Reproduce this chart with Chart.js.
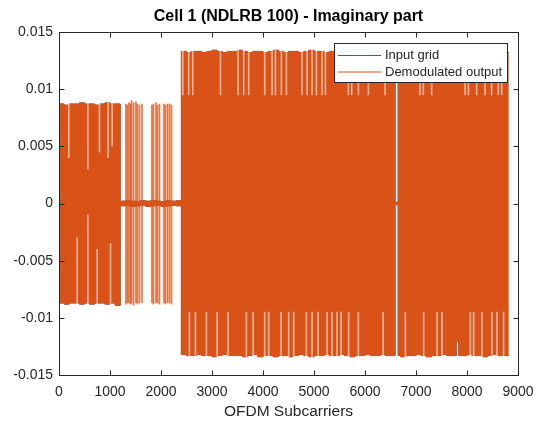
<!DOCTYPE html>
<html>
<head>
<meta charset="utf-8">
<title>Cell 1 (NDLRB 100) - Imaginary part</title>
<script src="https://cdn.jsdelivr.net/npm/chart.js@4.4.0/dist/chart.umd.min.js"></script>
<style>
  html, body { margin: 0; padding: 0; background: #fff; }
</style>
</head>
<body>
<canvas id="myChart" width="538" height="423"></canvas>
<script>
'use strict';

let chartTitle = 'Cell 1 (NDLRB 100) - Imaginary part';
let xTitle = 'OFDM Subcarriers';
let seriesNames = [ 'Input grid', 'Demodulated output' ];

let xTicks = [ 0, 1000, 2000, 3000, 4000, 5000, 6000, 7000, 8000, 9000 ];
let yTicks = [ -0.015, -0.01, -0.005, 0, 0.005, 0.01, 0.015 ];
let yTickLabels = [ '-0.015', '-0.01', '-0.005', '0', '0.005', '0.01', '0.015' ];

// envelope of the signal: each block starts at envX and holds until the next one
let envX = [
  0, 100, 200, 300, 400, 500, 600, 700, 800, 900, 1000, 1100,
  1200, 1300, 1400, 1500, 1600, 1700, 1800, 1900, 2000, 2100, 2200, 2300,
  2400, 2500, 2600, 2700, 2800, 2900, 3000, 3100, 3200, 3300,
  3400, 3500, 3600, 3700, 3800, 3900, 4000, 4100, 4200, 4300,
  4400, 4500, 4600, 4700, 4800, 4900, 5000, 5100, 5200, 5300,
  5400, 5500, 5600, 5700, 5800, 5900, 6000, 6100, 6200, 6300,
  6400, 6500,
  6590,
  6650, 6700, 6800, 6900, 7000, 7100, 7200, 7300, 7400, 7500, 7600, 7700,
  7790, 7840,
  7900, 8000, 8100, 8200, 8300, 8400, 8500, 8600, 8700,
  8820
];
let envHigh = [
  0.0087, 0.0086, 0.0087, 0.0087, 0.0088, 0.0087, 0.0087, 0.0086, 0.0087, 0.0088, 0.0087, 0.0087,
  0.0002, 0.00025, 0.0002, 0.00015, 0.00025, 0.0002, 0.00025, 0.0002, 0.00015, 0.00025, 0.0002, 0.00025,
  0.0133, 0.0132, 0.0133, 0.0133, 0.0132, 0.0133, 0.0134, 0.0133, 0.0132, 0.0133,
  0.0133, 0.0134, 0.0133, 0.0132, 0.0133, 0.0133, 0.0132, 0.0133, 0.0134, 0.0133,
  0.0132, 0.0133, 0.0133, 0.0132, 0.0133, 0.0134, 0.0133, 0.0133, 0.0132, 0.0133,
  0.0133, 0.0132, 0.0133, 0.0134, 0.0133, 0.0132, 0.0133, 0.0133, 0.0132, 0.0133,
  0.0133, 0.0132,
  0.0001,
  0.0133, 0.0132, 0.0133, 0.0133, 0.0134, 0.0133, 0.0132, 0.0133, 0.0133, 0.0132, 0.0133, 0.0133,
  0.0133, 0.0133,
  0.0132, 0.0133, 0.0133, 0.0134, 0.0133, 0.0132, 0.0133, 0.0133, 0.0132,
  0.0132
];
let envLow = [
  -0.0087, -0.0088, -0.0087, -0.0087, -0.0088, -0.0087, -0.0088, -0.0087, -0.0087, -0.0088, -0.0087, -0.0089,
  -0.0002, -0.00015, -0.00025, -0.0002, -0.00015, -0.00025, -0.0002, -0.00015, -0.00025, -0.0002, -0.00015, -0.0002,
  -0.0132, -0.0133, -0.0133, -0.0132, -0.0133, -0.0133, -0.0134, -0.0133, -0.0132, -0.0133,
  -0.0133, -0.0133, -0.0134, -0.0133, -0.0132, -0.0134, -0.0133, -0.0133, -0.0134, -0.0133,
  -0.0133, -0.0134, -0.0133, -0.0132, -0.0133, -0.0134, -0.0133, -0.0133, -0.0132, -0.0133,
  -0.0133, -0.0132, -0.0133, -0.0134, -0.0133, -0.0133, -0.0132, -0.0133, -0.0133, -0.0132,
  -0.0133, -0.0133,
  -0.0001,
  -0.0133, -0.0134, -0.0133, -0.0133, -0.0132, -0.0133, -0.0134, -0.0133, -0.0133, -0.0132, -0.0133, -0.0133,
  -0.0121, -0.0133,
  -0.0133, -0.0132, -0.0133, -0.0133, -0.0134, -0.0133, -0.0132, -0.0133, -0.0133,
  -0.0133
];

// isolated full-swing subcarriers in the quiet band 1200-2400
let spikeX = [
  1323, 1352, 1382, 1411, 1431, 1470, 1519, 1548, 1588, 1637,
  1833, 1862, 1911, 1940, 1980,
  2068, 2097, 2137, 2176, 2215
];
let spikeHigh = [
  0.0087, 0.0086, 0.0088, 0.0087, 0.0090, 0.0088, 0.0089, 0.0087, 0.0086, 0.0087,
  0.0086, 0.0087, 0.0088, 0.0086, 0.0087,
  0.0087, 0.0086, 0.0087, 0.0087, 0.0086
];
let spikeLow = [
  -0.0088, -0.0087, -0.0087, -0.0088, -0.0087, -0.0089, -0.0087, -0.0088, -0.0087, -0.0087,
  -0.0087, -0.0088, -0.0087, -0.0087, -0.0088,
  -0.0087, -0.0088, -0.0087, -0.0087, -0.0088
];

// subcarriers that stay below the full swing (the pale streaks inside the band)
let dipX = [
  183, 555, 784, 954, 1033,
  347, 555, 739, 1000,
  2417, 2534, 2613, 3156, 3503, 3612, 3710, 4024, 4169, 4234, 4351, 4449,
  4757, 4855, 4953, 5037, 5149, 5214, 5664, 5730, 5861, 6057, 6384,
  7069, 7134, 7297, 7952, 8017, 8180, 8344, 8473, 8604, 8670,
  2548, 2666, 2881, 3091, 3307, 3665, 3797, 4024, 4102, 4345, 4494, 4592,
  4841, 4953, 5071, 5247, 5345, 5443, 5521, 5670, 5860, 6345,
  6782, 7141, 7403, 7501, 8056, 8121, 8285, 8481, 8579, 8708
];
let dipFrom = [
  0.0040, 0.0030, 0.0045, 0.0040, 0.0050,
  -0.0089, -0.0089, -0.0089, -0.0089,
  0.0095, 0.0095, 0.0095, 0.0095, 0.0095, 0.0095, 0.0095, 0.0095, 0.0095, 0.0095, 0.0095, 0.0095,
  0.0095, 0.0095, 0.0095, 0.0095, 0.0095, 0.0095, 0.0095, 0.0095, 0.0095, 0.0095, 0.0095,
  0.0095, 0.0095, 0.0095, 0.0095, 0.0095, 0.0095, 0.0095, 0.0095, 0.0095, 0.0095,
  -0.0135, -0.0135, -0.0135, -0.0135, -0.0135, -0.0135, -0.0135, -0.0135, -0.0135, -0.0135, -0.0135, -0.0135,
  -0.0135, -0.0135, -0.0135, -0.0135, -0.0135, -0.0135, -0.0135, -0.0135, -0.0135, -0.0135,
  -0.0135, -0.0135, -0.0135, -0.0135, -0.0135, -0.0135, -0.0135, -0.0135, -0.0135, -0.0135
];
let dipTo = [
  0.0089, 0.0089, 0.0089, 0.0089, 0.0089,
  -0.0030, -0.0010, -0.0040, -0.0035,
  0.0135, 0.0135, 0.0135, 0.0135, 0.0135, 0.0135, 0.0135, 0.0135, 0.0135, 0.0135, 0.0135, 0.0135,
  0.0135, 0.0135, 0.0135, 0.0135, 0.0135, 0.0135, 0.0135, 0.0135, 0.0135, 0.0135, 0.0135,
  0.0135, 0.0135, 0.0135, 0.0135, 0.0135, 0.0135, 0.0135, 0.0135, 0.0135, 0.0135,
  -0.0095, -0.0095, -0.0095, -0.0095, -0.0095, -0.0095, -0.0095, -0.0095, -0.0095, -0.0095, -0.0095, -0.0095,
  -0.0095, -0.0095, -0.0095, -0.0095, -0.0095, -0.0095, -0.0095, -0.0095, -0.0095, -0.0095,
  -0.0095, -0.0095, -0.0095, -0.0095, -0.0095, -0.0095, -0.0095, -0.0095, -0.0095, -0.0095
];

let blue = '#0072BD';
let orange = '#D95319';
let axisColor = '#262626';
let fontFamily = '"Liberation Sans", Arial, Helvetica, sans-serif';

Chart.defaults.font.family = fontFamily;

function points( ys ) {
  return envX.map( ( x, i ) => ( { x: x, y: ys[i] } ) );
}

// MATLAB look: closed box, inward ticks, title and boxed legend
let matlabAxes = {
  id: 'matlabAxes',
  afterDraw( chart ) {
    let ctx = chart.ctx;
    let a = chart.chartArea;
    let xs = chart.scales.x;
    let ys = chart.scales.y;
    let l = Math.round( a.left ) + 0.5;
    let r = Math.round( a.right ) + 0.5;
    let t = Math.round( a.top ) + 0.5;
    let b = Math.round( a.bottom ) + 0.5;
    let tl = 5;

    ctx.save();
    ctx.strokeStyle = axisColor;
    ctx.lineWidth = 1;
    ctx.beginPath();
    ctx.rect( l, t, r - l, b - t );
    xTicks.forEach( v => {
      let px = Math.round( xs.getPixelForValue( v ) ) + 0.5;
      ctx.moveTo( px, b ); ctx.lineTo( px, b - tl );
      ctx.moveTo( px, t ); ctx.lineTo( px, t + tl );
    } );
    yTicks.forEach( v => {
      let py = Math.round( ys.getPixelForValue( v ) ) + 0.5;
      ctx.moveTo( l, py ); ctx.lineTo( l + tl, py );
      ctx.moveTo( r, py ); ctx.lineTo( r - tl, py );
    } );
    ctx.stroke();

    // title
    ctx.fillStyle = '#000';
    ctx.font = 'bold 16px ' + fontFamily;
    ctx.textAlign = 'center';
    ctx.textBaseline = 'middle';
    ctx.fillText( chartTitle, ( a.left + a.right ) / 2, 17 );

    // legend
    let bx = 334.5, by = 43.5, bw = 173, bh = 39;
    ctx.fillStyle = '#fff';
    ctx.fillRect( bx, by, bw, bh );
    ctx.strokeStyle = axisColor;
    ctx.strokeRect( bx, by, bw, bh );
    let colors = [ blue, orange ];
    ctx.font = '13px ' + fontFamily;
    ctx.textAlign = 'left';
    for( let i = 0; i < seriesNames.length; i++ ) {
      let cy = 55.5 + i * 16.5;
      ctx.strokeStyle = colors[i];
      ctx.beginPath();
      ctx.moveTo( 338, cy );
      ctx.lineTo( 381, cy );
      ctx.stroke();
      ctx.fillStyle = axisColor;
      ctx.fillText( seriesNames[i], 385, cy );
    }
    ctx.restore();
  }
};

let ctx = document.getElementById( 'myChart' ).getContext( '2d' );

let myChart = new Chart( ctx, {
  type: 'line',
  data: {
    datasets: [
      {
        label: seriesNames[0],
        data: points( envHigh ),
        borderColor: blue,
        borderWidth: 1,
        pointRadius: 0,
        stepped: true,
        fill: false,
        order: 3
      },
      {
        label: seriesNames[0] + ' low',
        data: points( envLow ),
        borderColor: blue,
        borderWidth: 1,
        pointRadius: 0,
        stepped: true,
        fill: false,
        order: 3
      },
      {
        label: seriesNames[1] + ' low',
        data: points( envLow ),
        borderColor: orange,
        borderWidth: 1,
        pointRadius: 0,
        stepped: true,
        fill: false,
        order: 2
      },
      {
        label: seriesNames[1],
        data: points( envHigh ),
        borderColor: orange,
        backgroundColor: orange,
        borderWidth: 1,
        pointRadius: 0,
        stepped: true,
        fill: '-1',
        order: 2
      },
      {
        type: 'bar',
        label: 'dips',
        data: dipX.map( ( x, i ) => ( { x: x, y: [ dipFrom[i], dipTo[i] ] } ) ),
        backgroundColor: 'rgba(255, 255, 255, 0.55)',
        borderWidth: 0,
        barThickness: 1,
        order: 1
      },
      {
        type: 'bar',
        label: seriesNames[1] + ' spikes',
        data: spikeX.map( ( x, i ) => ( { x: x, y: [ spikeLow[i], spikeHigh[i] ] } ) ),
        backgroundColor: 'rgba(217, 83, 25, 0.8)',
        borderWidth: 0,
        barThickness: 1,
        order: 0
      }
    ]
  },
  options: {
    responsive: false,
    animation: false,
    events: [],
    layout: { padding: { top: 32, right: 20, bottom: 0, left: 0 } },
    plugins: {
      legend: { display: false },
      title: { display: false },
      tooltip: { enabled: false }
    },
    scales: {
      x: {
        type: 'linear',
        min: 0,
        max: 9000,
        offset: false,
        grid: { display: false, drawTicks: false },
        border: { display: false },
        afterBuildTicks: scale => { scale.ticks = xTicks.map( v => ( { value: v } ) ); },
        afterFit: scale => {
          scale.height = 48;
          scale.paddingLeft = 0;
          scale.paddingRight = 0;
        },
        ticks: {
          autoSkip: false,
          maxRotation: 0,
          padding: 9,
          color: axisColor,
          font: { size: 14 },
          callback: v => String( v )
        },
        title: {
          display: true,
          text: xTitle,
          color: axisColor,
          font: { size: 15.5 },
          padding: { top: 0, bottom: 2 }
        }
      },
      y: {
        type: 'linear',
        min: -0.015,
        max: 0.015,
        grid: { display: false, drawTicks: false },
        border: { display: false },
        afterBuildTicks: scale => { scale.ticks = yTicks.map( v => ( { value: v } ) ); },
        afterFit: scale => {
          scale.width = 59;
          scale.paddingTop = 0;
          scale.paddingBottom = 0;
        },
        ticks: {
          autoSkip: false,
          padding: 6,
          color: axisColor,
          font: { size: 14 },
          callback: ( v, i ) => yTickLabels[i]
        }
      }
    }
  },
  plugins: [ matlabAxes ]
} );
</script>
</body>
</html>
